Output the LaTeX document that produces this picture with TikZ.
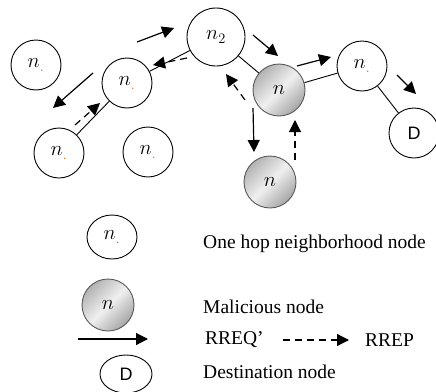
\documentclass[tikz,border=0pt]{standalone}
\usepackage{fontspec}
\setmainfont{Liberation Serif}
\newfontfamily\dfont{Liberation Sans}
\usetikzlibrary{arrows.meta,shapes.geometric}
\tikzset{
  plainnode/.style={circle,draw=black,line width=0.9pt,fill=white,minimum size=50pt,inner sep=0pt,font=\fontsize{22}{22}\selectfont},
  malnode/.style={circle,draw=gray!70!black,line width=0.9pt,minimum size=52pt,inner sep=0pt,
     shading=axis,top color=gray!60,bottom color=gray!70,middle color=gray!12,shading angle=45,font=\fontsize{22}{22}\selectfont},
  destnode/.style={circle,draw=black,line width=0.9pt,fill=white,minimum size=50pt,inner sep=0pt,font=\dfont\fontsize{18}{18}\selectfont},
  edge/.style={draw=black,line width=0.9pt},
  req/.style={draw=black,line width=1.2pt,-{Triangle[length=12pt,width=12pt]}},
  rep/.style={draw=black,line width=1.2pt,dash pattern=on 7pt off 5pt,-{Triangle[length=12pt,width=12pt]}},
  lbl/.style={anchor=west,inner sep=0pt,font=\fontsize{19.5}{20}\selectfont},
}
\newcommand{\nn}{$n_{\textcolor{orange!80!black}{.}}$}
\begin{document}
\begin{tikzpicture}[x=1pt,y=-1pt]
\useasboundingbox (0,0) rectangle (436,391);
\clip (0,0) rectangle (436,391);
% nodes
\node[plainnode] (tl) at (36,65) {\nn};
\node[plainnode] (mid) at (127,83) {\nn};
\node[plainnode] (bl) at (59,153) {\nn};
\node[plainnode] (bm) at (148,152) {\nn};
\node[plainnode,minimum size=58pt] (n2) at (216,37) {$n_2$};
\node[malnode] (mal) at (279,90) {$n$};
\node[malnode] (mal2) at (270,182) {$n$};
\node[plainnode] (rn) at (362,66) {\nn};
\node[destnode] (d) at (414,133) {D};
% edges
\draw[edge] (bl) -- (mid);
\draw[edge] (mid) -- (n2);
\draw[edge] (n2) -- (mal);
\draw[edge] (mal) -- (rn);
\draw[edge] (rn) -- (d);
% arrow coordinates
\coordinate (a1s) at (93,73);   \coordinate (a1e) at (53,108);
\coordinate (a2s) at (75,125);  \coordinate (a2e) at (100,103);
\coordinate (a3s) at (137,42);  \coordinate (a3e) at (174,28);
\coordinate (a4s) at (187,58);  \coordinate (a4e) at (153,65);
\coordinate (a5s) at (253,35);  \coordinate (a5e) at (278,56);
\coordinate (a6s) at (245,100); \coordinate (a6e) at (226,74);
\coordinate (a7s) at (253,108); \coordinate (a7e) at (254,152);
\coordinate (a8s) at (295,160); \coordinate (a8e) at (295,120);
\coordinate (a9s) at (297,66);  \coordinate (a9e) at (331,57);
\coordinate (a10s) at (397,75); \coordinate (a10e) at (416,94);
\draw[req] (a1s) -- (a1e);
\draw[rep] (a2s) -- (a2e);
\draw[req] (a3s) -- (a3e);
\draw[rep] (a4s) -- (a4e);
\draw[req] (a5s) -- (a5e);
\draw[rep] (a6s) -- (a6e);
\draw[req] (a7s) -- (a7e);
\draw[rep] (a8s) -- (a8e);
\draw[req] (a9s) -- (a9e);
\draw[req] (a10s) -- (a10e);
% legend
\node[plainnode,ellipse,minimum width=50pt,minimum height=44pt] (lw) at (112,237) {\nn};
\node[malnode] (lg) at (108,305) {$n$};
\node[destnode,ellipse,minimum width=52pt,minimum height=38pt] (ld) at (126,374) {D};
\coordinate (lrs) at (78,339); \coordinate (lre) at (148,339);
\draw[req] (lrs) -- (lre);
\node[lbl] (t1) at (203,244) {One hop neighborhood node};
\node[lbl] (t2) at (203,307) {Malicious node};
\node[lbl] (t3) at (205,340) {RREQ'};
\coordinate (lds) at (283,340); \coordinate (lde) at (349,340);
\draw[rep] (lds) -- (lde);
\node[lbl] (t4) at (365,340) {RREP};
\node[lbl] (t5) at (203,372) {Destination node};
\end{tikzpicture}
\end{document}
